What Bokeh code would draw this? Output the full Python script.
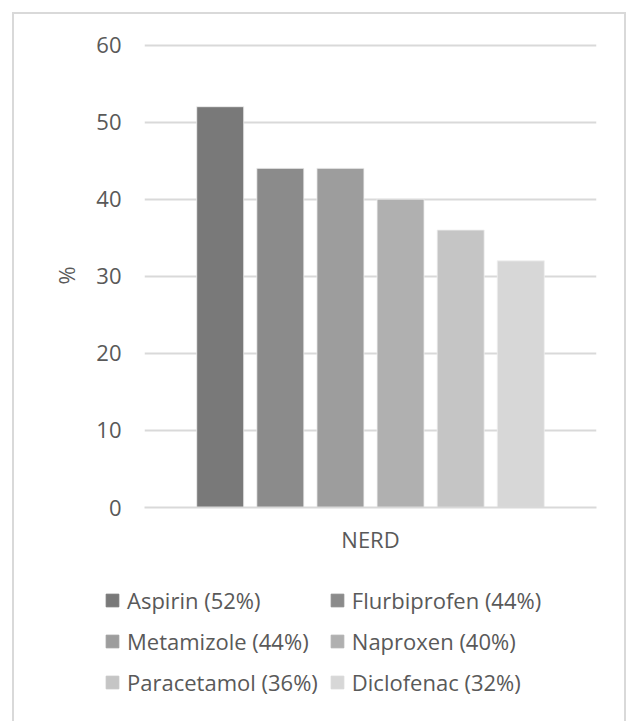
from bokeh.plotting import figure
from bokeh.models import (FactorRange, Range1d, FixedTicker, Legend, LegendItem,
                          ColumnDataSource, InlineStyleSheet)
from bokeh.transform import dodge
from bokeh.embed import file_html
from bokeh.resources import INLINE

# ---- data ----
group = "NERD"
drugs = ["Aspirin", "Flurbiprofen", "Metamizole", "Naproxen", "Paracetamol", "Diclofenac"]
values = [52, 44, 44, 40, 36, 32]
colors = ["#797979", "#8b8b8b", "#9d9d9d", "#b0b0b0", "#c5c5c5", "#d7d7d7"]
y_ticks = [0, 10, 20, 30, 40, 50, 60]
y_label = "%"

FONT = "Open Sans"
TXT = "#595959"
GRID = "#d9d9d9"

top_css = InlineStyleSheet(css="""
:host::after {
  content: ""; position: absolute;
  left: 12px; top: 12px; right: 0px; bottom: 0px;
  border-left: 2px solid #d9d9d9; border-top: 2px solid #d9d9d9;
  border-right: 2px solid #d9d9d9;
  pointer-events: none; z-index: 10;
}
""")
bottom_css = InlineStyleSheet(css="""
:host::after {
  content: ""; position: absolute;
  left: 12px; top: 0px; right: 0px; bottom: 0px;
  border-left: 2px solid #d9d9d9; border-right: 2px solid #d9d9d9;
  pointer-events: none; z-index: 10;
}
""")

p = figure(width=626, height=560, output_backend="svg", toolbar_location=None,
           x_range=FactorRange(group, range_padding=0), y_range=Range1d(0, 60.2),
           min_border_left=144, min_border_right=30, min_border_top=43,
           min_border_bottom=53, stylesheets=[top_css])
p.outline_line_color = None

pitch = 0.133
bw = 0.104
for i, (v, c) in enumerate(zip(values, colors)):
    src = ColumnDataSource(dict(x=[group], top=[v]))
    p.vbar(x=dodge("x", (i - 2.5) * pitch, range=p.x_range), top="top",
           width=bw, source=src, fill_color=c, line_color="#f0f0f0",
           line_width=0.8)

# axes
p.yaxis.ticker = FixedTicker(ticks=y_ticks)
p.yaxis.axis_label = y_label
p.yaxis.axis_label_text_font = FONT
p.yaxis.axis_label_text_font_size = "22px"
p.yaxis.axis_label_text_font_style = "normal"
p.yaxis.axis_label_text_color = TXT
p.yaxis.axis_label_standoff = 12
p.yaxis.major_label_text_font = FONT
p.yaxis.major_label_text_font_size = "22px"
p.yaxis.major_label_text_color = TXT
p.yaxis.major_label_standoff = 23
p.yaxis.major_tick_out = 0
p.yaxis.major_tick_in = 0
p.yaxis.axis_line_color = None
p.yaxis.major_tick_line_color = None
p.yaxis.minor_tick_line_color = None

p.xaxis.axis_line_color = GRID
p.xaxis.axis_line_width = 2
p.xaxis.major_tick_out = 0
p.xaxis.major_tick_in = 0
p.xaxis.major_tick_line_color = None
p.xaxis.minor_tick_line_color = None
p.xaxis.major_label_text_font = FONT
p.xaxis.major_label_text_font_size = "22px"
p.xaxis.major_label_text_color = TXT
p.xaxis.major_label_standoff = 16

p.xgrid.grid_line_color = None
p.ygrid.grid_line_color = GRID
p.ygrid.grid_line_width = 2

# ---- legend strip (separate root so the legend is not clipped) ----
q = figure(width=626, height=161, output_backend="svg", toolbar_location=None,
           x_range=FactorRange(group, range_padding=0), y_range=Range1d(0, 60.2),
           min_border=0, stylesheets=[bottom_css])
q.axis.visible = False
q.grid.visible = False
q.outline_line_color = None
items = []
for i, (d, v, c) in enumerate(zip(drugs, values, colors)):
    src = ColumnDataSource(dict(x=[group], top=[v]))
    r = q.vbar(x=dodge("x", (i - 2.5) * pitch, range=q.x_range), top="top",
               width=bw, source=src, fill_color=c, line_color=c,
               line_width=0.8, visible=False)
    items.append(LegendItem(label=f"{d} ({v}%)", renderers=[r]))

legend = Legend(items=items, location=(104, 24), orientation="horizontal", ncols=2,
                glyph_width=16, glyph_height=16, label_standoff=7,
                label_height=30, spacing=11, padding=0, margin=0,
                border_line_color=None, background_fill_alpha=0,
                inactive_fill_alpha=0,
                label_text_font=FONT, label_text_font_size="22px",
                label_text_color=TXT)
q.add_layout(legend, "center")

open("out.html", "w").write(file_html([p, q], INLINE))
